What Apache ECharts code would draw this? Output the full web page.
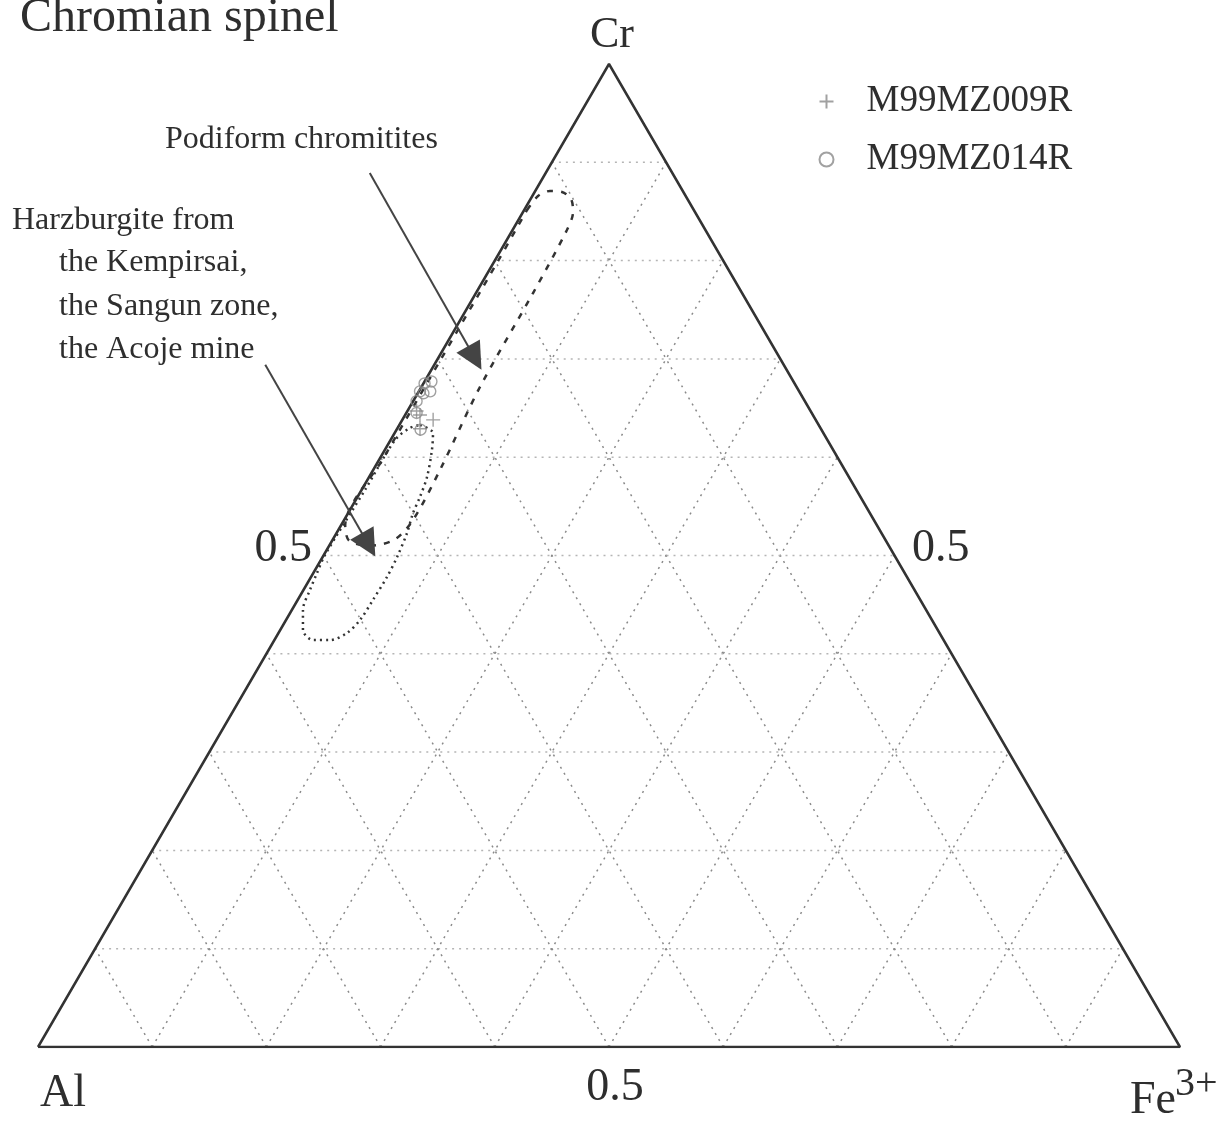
<!DOCTYPE html>
<html><head><meta charset="utf-8">
<script src="https://cdn.jsdelivr.net/npm/echarts@6/dist/echarts.min.js"></script>
<style>html,body{margin:0;padding:0;background:#fff}#c{width:1231px;height:1121px}</style>
</head><body><div id="c"></div>
<script>
// ---- data (ternary: Cr, Fe3+ fractions; Al = 1 - Cr - Fe) ----
const gridTicks = [0.1, 0.2, 0.3, 0.4, 0.5, 0.6, 0.7, 0.8, 0.9];
const tickLabel = '0.5';
const vertexNames = ['Al', 'Cr', 'Fe'];
const seriesNames = ['M99MZ009R', 'M99MZ014R'];

const m009Cr = [0.643, 0.638, 0.629, 0.647];
const m009Fe = [0.013, 0.027, 0.020, 0.008];

const m014Cr = [0.677, 0.675, 0.667, 0.665, 0.667, 0.657, 0.645, 0.628];
const m014Fe = [0.006, 0.001, 0.001, 0.005, 0.010, 0.003, 0.009, 0.021];

const podiformCr = [0.8515, 0.8657, 0.8708, 0.8698, 0.8627, 0.8494, 0.8311, 0.7670, 0.6714, 0.5870, 0.5361, 0.5160, 0.5100, 0.5150, 0.5300, 0.6000, 0.7000, 0.8000, 0.8515];
const podiformFe = [0.0025, 0.0050, 0.0129, 0.0239, 0.0354, 0.0438, 0.0476, 0.0500, 0.0513, 0.0585, 0.0603, 0.0540, 0.0350, 0.0150, 0.0040, 0.0030, 0.0030, 0.0030, 0.0025];

const harzCr = [0.6328, 0.6246, 0.6073, 0.5799, 0.5595, 0.5432, 0.5229, 0.4985, 0.4781, 0.4547, 0.4344, 0.4212, 0.4140, 0.4140, 0.4242, 0.4446, 0.4649, 0.4822, 0.5005, 0.5666, 0.6175, 0.6297, 0.6328];
const harzFe = [0.0181, 0.0336, 0.0413, 0.0507, 0.0547, 0.0568, 0.0617, 0.0652, 0.0665, 0.0659, 0.0648, 0.0600, 0.0487, 0.0338, 0.0199, 0.0097, 0.0057, 0.0032, 0.0010, 0.0030, 0.0039, 0.0108, 0.0181];

// annotation arrows: [startCr, startFe, tipCr, tipFe]
const arrowPodiform = [0.889, -0.154, 0.701, 0.032];
const arrowHarz = [0.694, -0.148, 0.511, 0.034];

// ---- helpers ----
const S3 = Math.sqrt(3) / 2;
function xy(cr, fe) { return [fe + cr / 2, cr * S3]; }

const FONT = '"Liberation Serif", "Times New Roman", serif';
const series = [];

// grid lines
gridTicks.forEach(k => {
  series.push({ type: 'line', silent: true, symbol: 'none', z: 1,
    data: [xy(k, 0), xy(k, 1 - k)],
    lineStyle: { color: '#b5b5b5', width: 1.5, type: [2, 5] } });
  series.push({ type: 'line', silent: true, symbol: 'none', z: 1,
    data: [xy(0, k), xy(1 - k, k)],
    lineStyle: { color: '#8a8a8a', width: 1.5, type: [2, 5] } });
  series.push({ type: 'line', silent: true, symbol: 'none', z: 1,
    data: [xy(0, 1 - k), xy(1 - k, 0)],
    lineStyle: { color: '#8a8a8a', width: 1.5, type: [2, 5] } });
});

// fields
series.push({ type: 'line', silent: true, symbol: 'none', z: 2, smooth: 0.3,
  data: podiformCr.map((c, i) => xy(c, podiformFe[i])),
  lineStyle: { color: '#333', width: 2.5, type: [6, 8] } });
series.push({ type: 'line', silent: true, symbol: 'none', z: 2, smooth: 0.3,
  data: harzCr.map((c, i) => xy(c, harzFe[i])),
  lineStyle: { color: '#333', width: 2.5, type: [2, 4] } });

// triangle outline
series.push({ type: 'line', silent: true, symbol: 'none', z: 3,
  data: [xy(0, 0), xy(0, 1), xy(1, 0), xy(0, 0)],
  lineStyle: { color: '#333', width: 2.5 } });

// data points
series.push({ name: seriesNames[0], type: 'scatter', z: 5,
  symbol: 'path://M0,5L10,5M5,0L5,10', symbolSize: 14,
  itemStyle: { color: 'none', borderColor: '#8a8a8a', borderWidth: 1.4 },
  data: m009Cr.map((c, i) => xy(c, m009Fe[i])) });
series.push({ name: seriesNames[1], type: 'scatter', z: 5,
  symbol: 'circle', symbolSize: 11,
  itemStyle: { color: 'none', borderColor: '#8a8a8a', borderWidth: 1.4 },
  data: m014Cr.map((c, i) => xy(c, m014Fe[i])) });

// arrows
series.push({ type: 'lines', coordinateSystem: 'cartesian2d', silent: true, z: 6,
  symbol: ['none', 'triangle'], symbolSize: [22, 27],
  lineStyle: { color: '#444', width: 2, opacity: 1, curveness: 0 },
  itemStyle: { color: '#555' },
  data: [arrowPodiform, arrowHarz].map(a => ({ coords: [xy(a[0], a[1]), xy(a[2], a[3])] })) });

const chart = echarts.init(document.getElementById('c'), null, { renderer: 'canvas' });

function txt(text, x, y, size, align, extra) {
  return Object.assign({ type: 'text', x: x, y: y, silent: true,
    style: { text: text, fontSize: size, fontFamily: FONT, fill: '#2e2e2e', align: align, verticalAlign: 'middle' } }, extra || {});
}

chart.setOption({
  animation: false,
  backgroundColor: '#fff',
  grid: { left: 38, right: 51, top: 64, bottom: 74 },
  xAxis: { type: 'value', min: 0, max: 1, show: false },
  yAxis: { type: 'value', min: 0, max: S3, show: false },
  legend: {
    data: seriesNames, orient: 'vertical', left: 812, top: 78,
    itemWidth: 14, itemHeight: 14, itemGap: 21,
    textStyle: { fontSize: 37, fontFamily: FONT, color: '#2e2e2e', lineHeight: 36, padding: [0, 0, 0, 28] }
  },
  series: series,
  graphic: [
    txt('Chromian spinel', 20, 18, 48, 'left'),
    txt(vertexNames[1], 612, 35, 44, 'center'),
    txt(vertexNames[0], 40, 1094, 46, 'left'),
    txt(tickLabel, 615, 1088, 46, 'center'),
    txt(vertexNames[2], 1130, 1101, 46, 'left'),
    txt('3+', 1175, 1084, 40, 'left'),
    txt(tickLabel, 312, 549, 46, 'right'),
    txt(tickLabel, 912, 549, 46, 'left'),
    txt('Podiform chromitites', 165, 140, 32, 'left'),
    txt('Harzburgite from', 12, 221, 32, 'left'),
    txt('the Kempirsai,', 59, 263, 32, 'left'),
    txt('the Sangun zone,', 59, 307, 32, 'left'),
    txt('the Acoje mine', 59, 350, 32, 'left')
  ]
});
</script></body></html>
